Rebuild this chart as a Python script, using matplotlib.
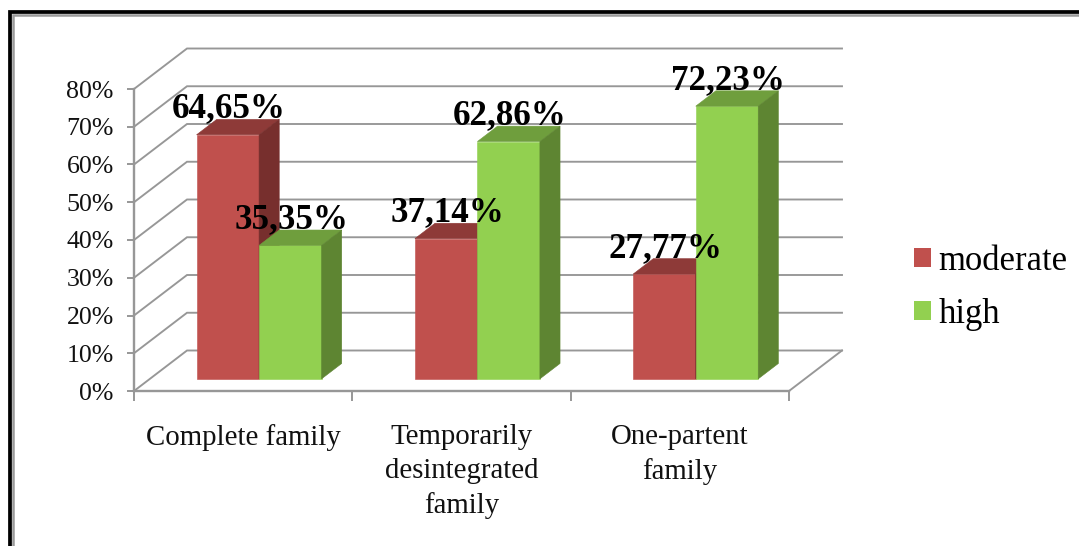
import matplotlib
matplotlib.use("Agg")
import matplotlib.pyplot as plt
from matplotlib.patches import Polygon, Patch
from matplotlib.lines import Line2D

categories = ["Complete family", "Temporarily\ndesintegrated\nfamily", "One-partent\nfamily"]
moderate = [64.65, 37.14, 27.77]
high = [35.35, 62.86, 72.23]
moderate_labels = ["64,65%", "37,14%", "27,77%"]
high_labels = ["35,35%", "62,86%", "72,23%"]
y_ticks = [0, 10, 20, 30, 40, 50, 60, 70, 80]

W, H = 1079, 546
plt.rcParams["font.family"] = ["Liberation Serif", "DejaVu Serif"]
fig = plt.figure(figsize=(W / 100, H / 100), dpi=100, facecolor="white")
ax = fig.add_axes([134 / W, 1 - 391 / H, 655 / W, 302 / H])
ax.set_xlim(-0.5, 2.5)
ax.set_ylim(0, 80)
ax.patch.set_visible(False)

px_x = 655 / 3
px_y = 302 / 80
DX = 53 / px_x
DY = 40.5 / px_y


def project(x, y, d):
    return (x + d * DX, y + d * DY)


GRID = "#979797"
glw = 1.9
for v in y_ticks:
    xs = [-0.5, -0.5 + DX, 2.5 + DX]
    ys = [v, v + DY, v + DY]
    ax.plot(xs, ys, color=GRID, lw=glw * 0.72, clip_on=False, zorder=1, solid_joinstyle="miter")
ax.plot([2.5, 2.5 + DX], [0, DY], color=GRID, lw=glw * 0.72, clip_on=False, zorder=1)

D0, D1 = 0.30, 0.68
BW = 62.5 / px_x


def bar3d(x0, value, front, top, side, z):
    x1 = x0 + BW
    poly = [
        ([project(x0, 0, D0), project(x1, 0, D0), project(x1, value, D0), project(x0, value, D0)], front),
        ([project(x0, value, D0), project(x1, value, D0), project(x1, value, D1), project(x0, value, D1)], top),
        ([project(x1, 0, D0), project(x1, 0, D1), project(x1, value, D1), project(x1, value, D0)], side),
    ]
    for pts, col in poly:
        ax.add_patch(Polygon(pts, closed=True, facecolor=col, edgecolor=col, lw=0.4, clip_on=False, zorder=z))


RED = ("#C0504D", "#8E3A38", "#772F2D")
GREEN = ("#92D050", "#6F9E3D", "#5E8532")
for i in range(3):
    bar3d(i - BW, moderate[i], *RED, z=3 + i)
    bar3d(i, high[i], *GREEN, z=3.5 + i)
    for x0, val, lab in ((i - BW, moderate[i], moderate_labels[i]), (i, high[i], high_labels[i])):
        p = project(x0 + BW / 2, val, D0)
        ax.annotate(lab, xy=p, xytext=(0.7, 18.6), textcoords="offset points", ha="center", va="center",
                    fontsize=25.2, fontweight="bold", color="black", zorder=10, annotation_clip=False)

for s in ("top", "right"):
    ax.spines[s].set_visible(False)
for s in ("left", "bottom"):
    ax.spines[s].set_color(GRID)
    ax.spines[s].set_linewidth(glw * 0.9)
ax.set_yticks(y_ticks)
ax.set_yticklabels([f"{v}%" for v in y_ticks], fontsize=18.6, color="#111111")
ax.tick_params(axis="y", length=5, width=1.4, color=GRID, pad=9.5)
ax.set_xticks([-0.5, 0.5, 1.5, 2.5])
ax.set_xticklabels([])
ax.set_xticks([0, 1, 2], minor=True)
ax.set_xticklabels(categories, minor=True, fontsize=20.8, color="#111111", linespacing=1.38)
ax.tick_params(axis="x", which="major", length=7, width=1.4, color=GRID)
ax.tick_params(axis="x", which="minor", length=0, pad=24)

handles = [Patch(facecolor=RED[0], edgecolor="none", label="moderate"),
           Patch(facecolor=GREEN[0], edgecolor="none", label="high")]
fig.legend(handles=handles, loc="center left", bbox_to_anchor=(907 / W, 1 - 288 / H), frameon=False,
           fontsize=24.9, handlelength=0.48, handleheight=0.47, handletextpad=0.23, labelspacing=0.58,
           borderpad=0.2, borderaxespad=0)

# outer picture frame
def fx(px):
    return px / W
def fy(px):
    return 1 - px / H
for (xa, ya, col, lw) in ((13.0, 15.0, "#9A9A9A", 1.8), (10.3, 12.3, "#000000", 2.7)):
    fig.add_artist(Line2D([fx(xa), fx(xa), 1.0], [0.0, fy(ya), fy(ya)], color=col, lw=lw,
                          solid_joinstyle="miter", transform=fig.transFigure))

fig.savefig("out.png", dpi=100, facecolor="white")
